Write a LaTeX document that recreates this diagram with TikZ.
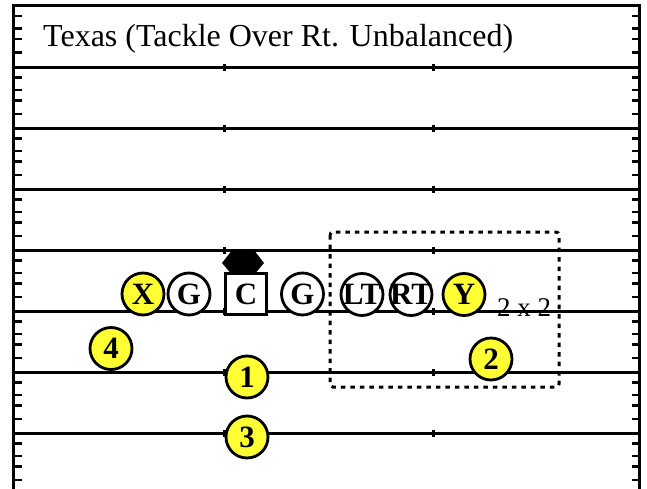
\documentclass[tikz,border=0pt]{standalone}
\usepackage{fontspec}
\setmainfont{Liberation Serif}
\definecolor{pyellow}{RGB}{255,255,51}
\tikzset{
  field/.style={line width=3pt, line cap=butt},
  hashmark/.style={line width=3pt},
  sidetick/.style={line width=2.8pt},
  player/.style={circle, draw=black, line width=2.8pt, fill=white, minimum size=42pt, inner sep=0pt,
                 font=\fontsize{31}{31}\selectfont\bfseries},
  skill/.style={player, fill=pyellow},
  centerbox/.style={rectangle, draw=black, line width=2.8pt, fill=white, minimum size=41pt, inner sep=0pt,
                 font=\fontsize{31}{31}\selectfont\bfseries},
  zone/.style={draw=black, line width=3pt, dash pattern=on 4.5pt off 5pt, rounded corners=3pt},
}
\begin{document}
\begin{tikzpicture}[x=1pt,y=-1pt]
\useasboundingbox (0,0) rectangle (647,489);
% border
\draw[field] (13,489) -- (13,6) -- (639,6) -- (639,489);
% yard lines, hash marks, side ticks
\foreach \k in {0,...,6}{
  \pgfmathsetmacro{\yy}{67.5+61*\k}
  \draw[field] (13,\yy) -- (639,\yy);
  \draw[hashmark] (224,\yy-3.5) -- (224,\yy+3.5);
  \draw[hashmark] (433,\yy-3.5) -- (433,\yy+3.5);
}
\foreach \t in {6,67.5,128.5,189.5,250.5,311.5,372.5,433.5}{
  \foreach \o in {10,22.5,33,46.5}{
    \draw[sidetick] (13,\t+\o) -- (22,\t+\o);
    \draw[sidetick] (632,\t+\o) -- (639,\t+\o);
  }
}
% title
\node[anchor=base west, inner sep=0pt, font=\fontsize{32}{32}\selectfont] (title) at (43,47)
  {Texas (Tackle Over Rt. Unbalanced)};
% zone
\draw[zone] (330,232) rectangle (559,387);
% defensive marker
\fill[black] (222,263) -- (233,249) -- (253,249) -- (264,263) -- (253,276) -- (233,276) -- cycle;
% players
\node[skill]  (X)  at (143,294) {X};
\node[player] (G1) at (189,294) {G};
\node[centerbox] (C) at (246,294) {C};
\node[player] (G2) at (302.5,294) {G};
\node[player] (LT) at (362,294.5) {\makebox[0pt]{LT}};
\node[player] (RT) at (411,294.5) {\makebox[0pt]{RT}};
\node[skill]  (Y)  at (464,294.5) {Y};
\node[skill]  (B4) at (111,348.5) {4};
\node[skill]  (B1) at (247,377) {1};
\node[skill]  (B2) at (491,359) {2};
\node[skill]  (B3) at (247,437) {3};
\node[font=\fontsize{27}{27}\selectfont, inner sep=0pt, anchor=base] (form) at (524,316) {2 x 2};
\end{tikzpicture}
\end{document}
